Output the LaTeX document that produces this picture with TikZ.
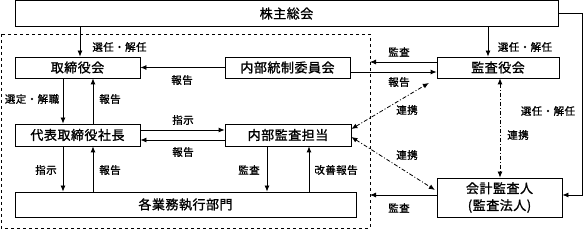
\documentclass[tikz,border=0pt]{standalone}
\usepackage{fontspec}
\setmainfont{Noto Sans CJK JP}[AutoFakeBold=1.2, LetterSpace=4]
\usetikzlibrary{arrows.meta}

\begin{document}
\begin{tikzpicture}[x=1pt, y=-1pt,
				>={Latex[length=6pt,width=5pt]},   % Pfeilspitzen
				box/.style={draw, line width=0.8pt, inner sep=0pt, align=center, font=\fontsize{13}{17}\selectfont\bfseries},
				lbl/.style={inner sep=0pt, font=\fontsize{10.5}{12}\selectfont\bfseries},
				conn/.style={->, line width=0.8pt},
				link/.style={<->, line width=0.8pt, dash pattern=on 4pt off 2pt on 1pt off 2pt}]
				\useasboundingbox (0,0) rectangle (584,229);
				% Rahmen (gestrichelt)
				\draw[dashed, line width=0.6pt] (1,34) rectangle (370,228);
				\coordinate (wakuA) at (370,62);
				\coordinate (wakuB) at (370,195);
				\coordinate (migi) at (582,195);
				% Kästen
				\node[box, minimum width=543pt, minimum height=26pt] (soukai) at (286.5,13.5) {株主総会};
				\node[box, minimum width=125pt, minimum height=21pt] (torishimari) at (77.5,67.5) {取締役会};
				\node[box, minimum width=125pt, minimum height=21pt] (tousei) at (287.5,67.5) {内部統制委員会};
				\node[box, minimum width=122pt, minimum height=21pt] (kansayaku) at (498,67.5) {監査役会};
				\node[box, minimum width=125pt, minimum height=22pt] (daihyo) at (77.5,135) {代表取締役社長};
				\node[box, minimum width=126pt, minimum height=22pt] (naibukansa) at (288,135) {内部監査担当};
				\node[box, minimum width=341pt, minimum height=25pt] (gyomu) at (185.5,204.5) {各業務執行部門};
				\node[box, minimum width=125pt, minimum height=39pt] (kaikei) at (499.5,197.5) {会計監査人\\(監査法人)};
				% Pfeile
				\draw[conn] (soukai.south -| 80,0) -- (torishimari.north -| 80,0);
				\draw[conn] (soukai.south -| 488,0) -- (kansayaku.north -| 488,0);
				\draw[conn] (tousei.west) -- (torishimari.east);
				\draw[conn] (kansayaku.west |- wakuA) -- (wakuA);
				\draw[conn] (tousei.east |- 0,72) -- (kansayaku.west |- 0,72);
				\draw[conn] (torishimari.south -| 63,0) -- (daihyo.north -| 63,0);
				\draw[conn] (daihyo.north -| 93,0) -- (torishimari.south -| 93,0);
				\draw[conn] (daihyo.east |- 0,130) -- (naibukansa.west |- 0,130);
				\draw[conn] (naibukansa.west |- 0,140) -- (daihyo.east |- 0,140);
				\draw[conn] (daihyo.south -| 63,0) -- (gyomu.north -| 63,0);
				\draw[conn] (gyomu.north -| 93,0) -- (daihyo.south -| 93,0);
				\draw[conn] (naibukansa.south -| 267,0) -- (gyomu.north -| 267,0);
				\draw[conn] (gyomu.north -| 309,0) -- (naibukansa.south -| 309,0);
				\draw[conn] (kaikei.west |- wakuB) -- (wakuB);
				\draw[conn] (soukai.east) -| (migi) -- (kaikei.east |- migi);
				% Verbindungen (strichpunktiert)
				\draw[link, shorten >=9pt] (naibukansa.east |- 0,129) -- (kansayaku.south west);
				\draw[link, shorten >=2pt] (naibukansa.east |- 0,137) -- (kaikei.west |- 0,191);
				\draw[link] (kansayaku.south -| 500,0) -- (kaikei.north -| 500,0);
				% Beschriftungen
				\node[lbl] (l1) at (119.5,47) {選任・解任};
				\node[lbl] (l2) at (525,47) {選任・解任};
				\node[lbl] (l3) at (182,80) {報告};
				\node[lbl] (l4) at (399,52) {監査};
				\node[lbl] (l5) at (399,82) {報告};
				\node[lbl] (l6) at (407,110) {連携};
				\node[lbl] (l7) at (548,111) {選任・解任};
				\node[lbl] (l8) at (518,135) {連携};
				\node[lbl] (l9) at (407,155) {連携};
				\node[lbl] (l10) at (399,208) {監査};
				\node[lbl] (l11) at (336,170) {改善報告};
				\node[lbl] (l12) at (249,170) {監査};
				\node[lbl] (l13) at (183,120) {指示};
				\node[lbl] (l14) at (183,152) {報告};
				\node[lbl] (l15) at (46,170) {指示};
				\node[lbl] (l16) at (110,170) {報告};
				\node[lbl] (l17) at (32,99) {選定・解職};
				\node[lbl] (l18) at (110,99) {報告};
			\end{tikzpicture}
\end{document}
